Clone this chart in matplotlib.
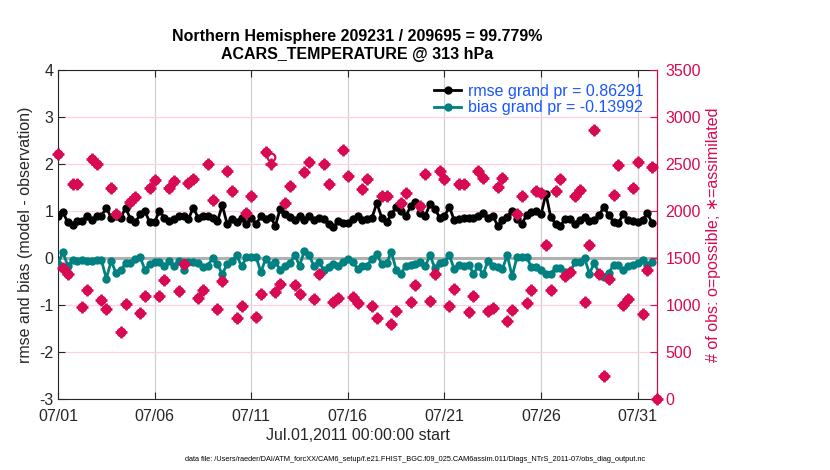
import numpy as np
import matplotlib
matplotlib.use("Agg")
import matplotlib.pyplot as plt

plt.rcParams['font.family'] = ['Liberation Sans', 'DejaVu Sans']
plt.rcParams['axes.unicode_minus'] = False

# 6-hourly bins starting Jul.01,2011 00:00 (days since start = index/4)
rmse = [0.89, 0.98, 0.76, 0.70, 0.78, 0.78, 0.90, 0.80, 0.89, 0.90, 1.07, 0.86, 0.90, 0.86, 1.07, 0.83,
        0.76, 0.93, 0.99, 0.76, 0.76, 1.01, 0.86, 0.78, 0.83, 0.89, 0.89, 0.83, 1.07, 0.86, 0.89,
        0.89, 0.86, 0.78, 1.12, 0.73, 0.83, 0.76, 0.86, 0.73, 0.86, 0.72, 0.89, 0.83, 0.87, 0.69, 1.05,
        0.93, 0.87, 0.81, 0.89, 0.80, 0.89, 0.81, 0.86, 0.83, 0.73, 0.65, 0.78, 0.74, 0.74, 0.83,
        0.90, 0.81, 0.83, 0.86, 1.17, 0.86, 0.76, 0.93, 1.09, 1.01, 0.89, 1.10, 1.19, 0.96, 0.90, 1.14,
        1.05, 0.86, 0.89, 1.09, 0.81, 0.83, 0.86, 0.86, 0.86, 0.90, 0.96, 0.86, 0.90, 0.69, 0.80,
        0.87, 1.01, 0.83, 0.73, 0.91, 0.98, 1.01, 0.93, 1.37, 0.87, 0.73, 0.69, 0.83, 0.83, 0.73, 0.80,
        0.87, 0.79, 0.81, 0.91, 1.09, 0.91, 0.77, 0.74, 0.94, 0.80, 0.78, 0.77, 0.80, 0.96, 0.74]

bias = [-0.12, 0.13, -0.16, -0.05, -0.06, -0.05, -0.06, -0.06, -0.05, -0.05, -0.44, -0.06, -0.32, -0.26,
        -0.11, -0.11, -0.01, 0.02, -0.25, -0.12, -0.08, -0.08, -0.18, -0.06, -0.18, -0.06, -0.26, -0.08,
        -0.08, -0.11, -0.19,
        -0.16, 0.00, -0.12, -0.35, -0.12, -0.06, 0.06, -0.18, 0.02, 0.02, 0.02, -0.30, -0.01, -0.14,
        -0.08, -0.25, -0.18, -0.11, 0.06, -0.16, 0.15, 0.06, -0.18, -0.08, -0.25, -0.19, -0.12, -0.16,
        -0.08, -0.01, -0.08,
        -0.23, -0.18, -0.16, -0.01, 0.08, -0.12, -0.11, 0.13, -0.25, -0.33, -0.16, -0.14, -0.12, -0.08,
        -0.18, 0.06, -0.21, -0.11, -0.08, 0.06, -0.23, -0.14, -0.16, -0.14, -0.33, -0.18, -0.35, -0.06,
        -0.16, -0.19, -0.23,
        0.06, -0.39, 0.02, 0.02, 0.02, -0.19, -0.19, -0.26, -0.33, -0.33, -0.21, -0.21, -0.30, -0.30,
        -0.09, -0.09, 0.00, -0.33, -0.11, -0.32, -0.40, -0.32, -0.14, -0.14, -0.26, -0.16, -0.14, -0.11,
        -0.05, -0.14, -0.09]

nposs = [2610, 1390, 1325, 2290, 2290, 975, 1165, 2550, 2495, 1055, 960, 2240, 1970, 710, 1010, 2095,
         2150, 915, 1100, 2250, 2335, 1100, 1270, 2250, 2320, 1145, 1440, 2300, 2345, 1075, 1155,
         2505, 2115, 960, 1260, 2425, 2215, 865, 985, 1980, 2155, 875, 1120, 2625, 2575, 1140, 1220,
         2090, 2270, 1210, 1120, 2410, 2520, 1065, 1330, 2505, 2290, 1030, 1075, 2645, 2375, 1090,
         1020, 2230, 2340, 995, 865, 2165, 2155, 800, 940, 2085, 2190, 1030, 1210, 2050, 2390, 1040,
         1330, 2430, 2340, 985, 1175, 2290, 2290, 930, 1095, 2430, 2355, 940, 970, 2255, 2355,
         825, 950, 1970, 2165, 1020, 1155, 2215, 2190, 1640, 1155, 2210, 2345, 1305, 1350, 2155, 2220,
         1035, 1640, 2860, 1325, 240, 1280, 2175, 2485, 1000, 1060, 2240, 2520, 905, 1370, 2465, 0]
nused = list(nposs)
nused[44] = 2505

xticks = [0, 5, 10, 15, 20, 25, 30]
xticklabels = ['07/01', '07/06', '07/11', '07/16', '07/21', '07/26', '07/31']

magenta = (215/255, 10/255, 83/255)
teal = (0, 128/255, 128/255)
pink = (1.0, 0.82, 0.88)

t_err = np.arange(len(rmse)) / 4.0
t_obs = np.arange(len(nposs)) / 4.0

fig = plt.figure(figsize=(8.3, 4.7), dpi=100)
ax = fig.add_axes([0.0699, 0.151, 0.7217, 0.700])

ax.axhline(0, color='#b0b0b0', lw=2.2, zorder=1)
ax.plot(t_err, rmse, '-o', color='k', lw=2, ms=5, label='rmse grand pr = 0.86291', zorder=3)
ax.plot(t_err, bias, '-o', color=teal, lw=2, ms=5, label='bias grand pr = -0.13992', zorder=3)

ax.set_xlim(0, 31)
ax.set_ylim(-3, 4)
ax.set_yticks(range(-3, 5))
ax.set_xticks(xticks)
ax.set_xticklabels(xticklabels)
ax.grid(axis='x', color='#d0d0d0', lw=0.9)
ax.grid(axis='y', color=pink, lw=0.9)
ax.set_axisbelow(True)
ax.tick_params(direction='in', labelsize=11.5, top=True, length=5, colors='#262626')
ax.tick_params(axis='x', pad=7)
ax.set_ylabel('rmse and bias (model - observation)', fontsize=11.5, color='#262626', labelpad=4)
ax.set_xlabel('Jul.01,2011 00:00:00 start', fontsize=11.5, color='#262626', labelpad=3)
for s in ['left', 'bottom', 'top']:
    ax.spines[s].set_color('#262626')

leg = ax.legend(loc='upper right', frameon=False, fontsize=11.5, handlelength=1.7,
                borderaxespad=0.45, handletextpad=0.4, labelspacing=0.1)
for txt in leg.get_texts():
    txt.set_color('#1a55ff')

ax2 = ax.twinx()
ax2.plot(t_obs, nposs, 'o', ls='none', ms=5.5, mfc='none', mec=magenta, mew=1.6, clip_on=False)
ax2.plot(t_obs, nused, 'D', ls='none', ms=5, mfc=magenta, mec=magenta, mew=1, clip_on=False)
ax2.plot(t_obs, nused, '+', ls='none', ms=8.5, mec=magenta, mew=1.8, clip_on=False)
ax2.set_ylim(0, 3500)
ax2.set_yticks(range(0, 3501, 500))
ax2.tick_params(direction='in', labelsize=11.5, length=5, colors=magenta, pad=6)
ax2.spines['right'].set_color(magenta)
ax2.spines['left'].set_visible(False)
ax2.spines['top'].set_visible(False)
ax2.spines['bottom'].set_visible(False)
ax2.set_ylabel('# of obs: o=possible; \u2217=assimilated', fontsize=11.5, color=magenta, labelpad=4)

ax.set_title('Northern Hemisphere 209231 / 209695 = 99.779%\nACARS_TEMPERATURE @ 313 hPa',
             fontsize=11.5, fontweight='bold', pad=8, linespacing=1.25)

fig.text(0.5, 0.022, 'data file: /Users/raeder/DAI/ATM_forcXX/CAM6_setup/f.e21.FHIST_BGC.f09_025.'
         'CAM6assim.011/Diags_NTrS_2011-07/obs_diag_output.nc', ha='center', va='center', fontsize=5.3)

fig.savefig('out.png', dpi=100)
